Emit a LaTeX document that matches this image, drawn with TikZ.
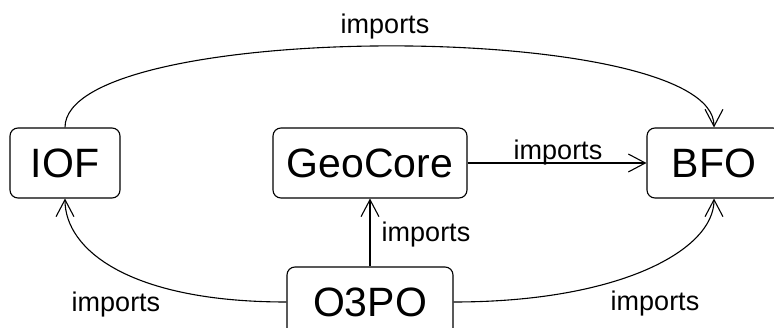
\documentclass[tikz,border=0pt]{standalone}
\usepackage{fontspec}
\setmainfont{Liberation Sans}
\usetikzlibrary{arrows.meta}
\tikzset{
  box/.style={draw, line width=1.1pt, rounded corners=8pt, minimum height=70pt, inner sep=0pt, font=\fontsize{41}{41}\selectfont},
  lbl/.style={inner sep=0pt, anchor=base, font=\fontsize{27}{27}\selectfont},
  imp/.style={line width=1.1pt, -{Straight Barb[length=17pt,width=18pt,line width=1.1pt]}}
}
\begin{document}
\begin{tikzpicture}[x=1pt,y=-1pt]
\useasboundingbox (0,0) rectangle (774,328);
\node[box, minimum width=110pt] (iof) at (65,163) {IOF};
\node[box, minimum width=194pt] (geo) at (370,163) {GeoCore};
\node[box, minimum width=134pt] (bfo) at (714,163) {BFO};
\node[box, minimum width=166pt] (o3po) at (370,302) {O3PO};
% connectors
\draw[imp] (iof.north) .. controls (65,19) and (714,19) .. (bfo.north);
\draw[imp] (geo.east) -- (bfo.west);
\draw[imp] (o3po.north) -- (geo.south);
\draw[imp] (o3po.west) .. controls (130,302) and (65,250) .. (iof.south);
\draw[imp] (o3po.east) .. controls (620,302) and (714,250) .. (bfo.south);
% labels
\node[lbl] (l1) at (385,34) {imports};
\node[lbl] (l2) at (558,160) {imports};
\node[lbl] (l3) at (426,242) {imports};
\node[lbl] (l4) at (116,312) {imports};
\node[lbl] (l5) at (655,311) {imports};
\end{tikzpicture}
\end{document}
